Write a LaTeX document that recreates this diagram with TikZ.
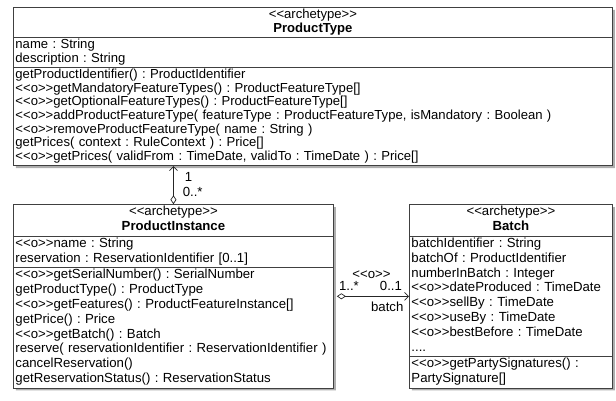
\documentclass[tikz,border=0pt]{standalone}
\usepackage{fontspec}
\setmainfont{Liberation Sans}
\usetikzlibrary{arrows.meta,shadows,positioning,shapes.multipart}

\newcommand\stereo[1]{<\kern0pt<#1>\kern0pt>}
\newcommand\topsize{\fontsize{13.1}{13.6}\selectfont\frenchspacing}
\newcommand\lowsize{\fontsize{13.2}{14.8}\selectfont\frenchspacing}
\newcommand\classname[1]{\strut\hfill\stereo{archetype}\hfill\null\\\hfill\textbf{#1}\hfill\null\strut}

\begin{document}
\begin{tikzpicture}[x=1pt,y=1pt,semithick,
    umlclass/.style={rectangle split,rectangle split parts=3,draw=black!75,
        line width=0.9pt,fill=white,align=left,inner xsep=2pt,inner ysep=1pt,
        drop shadow={shadow xshift=2.5pt,shadow yshift=-2.5pt,fill=black!70,opacity=0.45}},
    aggr/.style={{Diamond[open,length=9pt,width=6pt]}-{Straight Barb[length=4pt,width=8pt]},
        line width=0.7pt,black!85},
    lbl/.style={font=\lowsize,inner sep=1pt,text=black}]

        \useasboundingbox (0,0) rectangle (616,-401);

        \node[umlclass,font=\topsize,text width=595pt,anchor=north west] (ptype) at (13,-7)
            {\classname{ProductType}
             \nodepart{two}\strut name : String\\description : String\strut
             \nodepart{three}\strut getProductIdentifier() : ProductIdentifier\\
             \stereo{o}getMandatoryFeatureTypes() : ProductFeatureType[]\\
             \stereo{o}getOptionalFeatureTypes() : ProductFeatureType[]\\
             \stereo{o}addProductFeatureType( featureType : ProductFeatureType, isMandatory : Boolean )\\
             \stereo{o}removeProductFeatureType( name : String )\\
             getPrices( context : RuleContext ) : Price[]\\
             \stereo{o}getPrices( validFrom : TimeDate, validTo : TimeDate ) : Price[]\strut};

        \node[umlclass,font=\lowsize,text width=316pt,inner ysep=0.5pt,
              below=38pt of ptype.south west,anchor=north west] (pinst)
            {\classname{ProductInstance}
             \nodepart{two}\strut\stereo{o}name : String\\reservation : ReservationIdentifier [0..1]\strut
             \nodepart{three}\strut\stereo{o}getSerialNumber() : SerialNumber\\
             getProductType() : ProductType\\
             \stereo{o}getFeatures() : ProductFeatureInstance[]\\
             getPrice() : Price\\
             \stereo{o}getBatch() : Batch\\
             reserve( reservationIdentifier : ReservationIdentifier )\\
             cancelReservation()\\
             getReservationStatus() : ReservationStatus\strut};

        \node[umlclass,font=\lowsize,text width=199pt,inner ysep=0.5pt,
              below=38pt of ptype.south east,anchor=north east] (batch)
            {\classname{Batch}
             \nodepart{two}\strut batchIdentifier : String\\
             batchOf : ProductIdentifier\\
             numberInBatch : Integer\\
             \stereo{o}dateProduced : TimeDate\\
             \stereo{o}sellBy : TimeDate\\
             \stereo{o}useBy : TimeDate\\
             \stereo{o}bestBefore : TimeDate\\
             ....\strut
             \nodepart{three}\strut\stereo{o}getPartySignatures() :\\
             PartySignature[]\strut};

        \path (pinst.north) edge [aggr] node[lbl,pos=0.72,right=10pt] {1}
                                        node[lbl,pos=0.31,right=8pt] {0..*} (pinst.north |- ptype.south)
              (pinst.east)  edge [aggr,shorten <=3pt]
                                        node[lbl,pos=0.2,above=4pt] {1..*}
                                        node[lbl,pos=0.76,above=4pt] {0..1}
                                        node[lbl,pos=0.5,above=16pt] {\stereo{o}}
                                        node[lbl,pos=0.71,below=4.5pt] {batch} (batch.west);
      \end{tikzpicture}
\end{document}
